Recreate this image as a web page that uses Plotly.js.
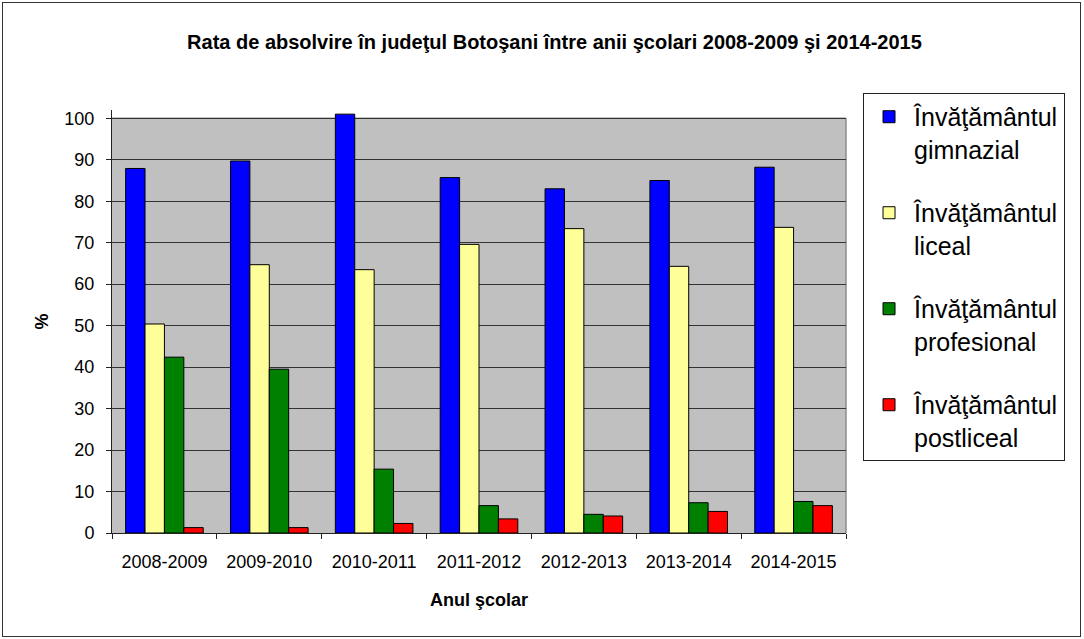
<!DOCTYPE html>
<html>
<head>
<meta charset="utf-8">
<script src="https://cdn.plot.ly/plotly-3.0.1.min.js"></script>
<style>
  html, body { margin: 0; padding: 0; background: #fff; }
  #wrap { position: relative; width: 1084px; height: 639px; }
  #chart { position: absolute; left: 0; top: 0; width: 1084px; height: 639px; }
  #frame { position: absolute; left: 2px; top: 2px; width: 1077px; height: 633px;
           border: 1px solid #333; pointer-events: none; }
</style>
</head>
<body>
<div id="wrap"><div id="chart"></div><div id="frame"></div></div>
<script>
const categories = ["2008-2009", "2009-2010", "2010-2011", "2011-2012", "2012-2013", "2013-2014", "2014-2015"];
const seriesNames = [
  "Învăţământul<br>gimnazial",
  "Învăţământul<br>liceal",
  "Învăţământul<br>profesional",
  "Învăţământul<br>postliceal"
];
const gimnazial   = [87.9, 89.7, 101.0, 85.7, 83.0, 85.0, 88.2];
const liceal      = [50.4, 64.7, 63.5, 69.6, 73.4, 64.3, 73.7];
const profesional = [42.4, 39.5, 15.4, 6.6, 4.5, 7.3, 7.6];
const postliceal  = [1.3, 1.3, 2.3, 3.4, 4.1, 5.2, 6.6];
const seriesColors = ["#0000FF", "#FFFF99", "#008000", "#FF0000"];
const yTicks = [0, 10, 20, 30, 40, 50, 60, 70, 80, 90, 100];

const chartTitle = "Rata de absolvire în judeţul Botoşani între anii şcolari 2008-2009 şi 2014-2015";
const xTitle = "Anul şcolar";
const yTitle = "%";

const FONT = "'Liberation Sans', Arial, sans-serif";
const allValues = [gimnazial, liceal, profesional, postliceal];

const traces = allValues.map((vals, i) => ({
  type: "bar",
  x: categories,
  y: vals,
  name: seriesNames[i],
  legendgroup: "g" + i,
  marker: { color: seriesColors[i], line: { color: "#000", width: 1 } },
  hoverinfo: "skip"
}));

const layout = {
  width: 1084,
  height: 639,
  margin: { l: 112, r: 238, t: 110, b: 106, autoexpand: false },
  paper_bgcolor: "#FFFFFF",
  plot_bgcolor: "rgba(0,0,0,0)",
  font: { family: FONT, color: "#000" },
  title: {
    text: "<b>" + chartTitle + "</b>",
    font: { family: FONT, size: 20, color: "#000" },
    x: 0.5115, xref: "container", xanchor: "center",
    y: 0.934, yref: "container", yanchor: "middle"
  },
  barmode: "group",
  bargap: 0.26,
  bargroupgap: 0,
  xaxis: {
    type: "category",
    tickson: "boundaries",
    ticks: "outside",
    ticklen: 5,
    tickcolor: "#222",
    tickwidth: 1,
    showline: true,
    linecolor: "#222",
    linewidth: 1,
    showgrid: false,
    tickfont: { family: FONT, size: 18, color: "#000" },
    ticklabelstandoff: 12,
    title: { text: "<b>" + xTitle + "</b>", font: { family: FONT, size: 18, color: "#000" }, standoff: 22 },
    fixedrange: true
  },
  yaxis: {
    range: [0, 102],
    tickvals: yTicks,
    ticktext: yTicks.map(String),
    ticks: "outside",
    ticklen: 5,
    tickcolor: "#222",
    tickwidth: 1,
    showline: true,
    linecolor: "#222",
    linewidth: 1,
    showgrid: true,
    gridcolor: "#333",
    gridwidth: 1,
    zeroline: false,
    tickfont: { family: FONT, size: 18, color: "#000" },
    ticklabelstandoff: 8,
    title: { text: "<b>" + yTitle + "</b>", font: { family: FONT, size: 18, color: "#000" }, standoff: 11 },
    fixedrange: true
  },
  shapes: [
    { type: "rect", layer: "below", xref: "paper", yref: "y", x0: 0, x1: 1, y0: 0, y1: 100,
      fillcolor: "#C0C0C0", line: { width: 0 } },
    { type: "line", layer: "between", xref: "paper", yref: "y", x0: 0, x1: 1, y0: 100, y1: 100,
      line: { color: "#8C8C8C", width: 1.5 } },
    { type: "line", layer: "between", xref: "paper", yref: "y", x0: 1, x1: 1, y0: 0, y1: 100,
      line: { color: "#8C8C8C", width: 1.5 } }
  ],
  showlegend: true,
  legend: {
    x: 1.0232, xanchor: "left",
    y: 0.8545, yref: "container", yanchor: "top",
    bgcolor: "#FFFFFF",
    bordercolor: "#222",
    borderwidth: 1,
    font: { family: FONT, size: 25, color: "#000" },
    valign: "top",
    itemwidth: 40,
    tracegroupgap: 28,
    traceorder: "grouped",
    maxheight: 600
  }
};

Plotly.newPlot("chart", traces, layout, { staticPlot: true, displayModeBar: false });
</script>
</body>
</html>
